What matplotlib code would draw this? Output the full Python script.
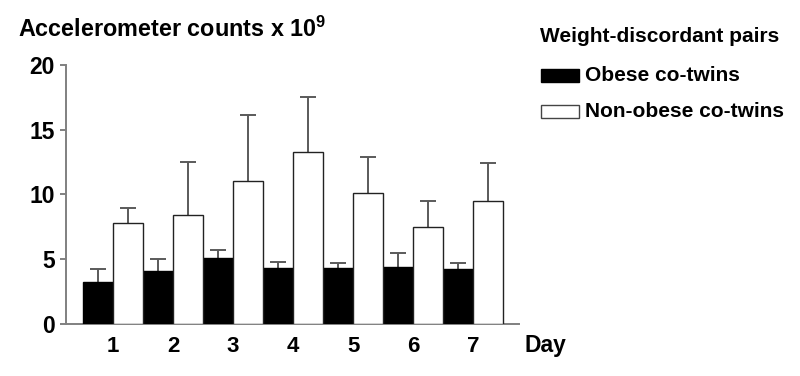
import numpy as np
import matplotlib
matplotlib.use("Agg")
import matplotlib.pyplot as plt
from matplotlib.patches import Rectangle

plt.rcParams["font.family"] = ["Liberation Sans", "DejaVu Sans"]
plt.rcParams["font.weight"] = "bold"
plt.rcParams["mathtext.fontset"] = "custom"
plt.rcParams["mathtext.rm"] = "Liberation Sans:bold"
plt.rcParams["mathtext.bf"] = "Liberation Sans:bold"

days = [1, 2, 3, 4, 5, 6, 7]
obese_mean = [3.2, 4.1, 5.1, 4.3, 4.3, 4.4, 4.2]
obese_err = [1.0, 0.9, 0.6, 0.45, 0.4, 1.05, 0.5]
nonobese_mean = [7.8, 8.4, 11.0, 13.3, 10.1, 7.5, 9.5]
nonobese_err = [1.15, 4.1, 5.15, 4.25, 2.8, 2.0, 2.9]
series_labels = ["Obese co-twins", "Non-obese co-twins"]

axis_grey = "#808080"
err_grey = "#5a5a5a"

fig = plt.figure(figsize=(8, 3.76), dpi=100)
ax = fig.add_axes([0.0825, 0.139, 0.5665, 0.688])

x = np.array(days, dtype=float)
w = 0.5
ax.bar(x - w / 2, obese_mean, width=w, color="black", edgecolor="black", linewidth=1.0, zorder=3)
ax.bar(x + w / 2, nonobese_mean, width=w, color="white", edgecolor="#222222", linewidth=1.0, zorder=3)

# only the upper half of each error bar is drawn
for xs, m, e in [(x - w / 2, obese_mean, obese_err), (x + w / 2, nonobese_mean, nonobese_err)]:
    eb = ax.errorbar(xs, m, yerr=[np.zeros(len(m)), e], fmt="none", ecolor=err_grey,
                     elinewidth=1.4, capsize=5.8, capthick=1.4, zorder=2)
    eb[1][0].set_visible(False)

ax.set_xlim(0.217, 7.767)
ax.set_ylim(0, 20)
ax.set_yticks([0, 5, 10, 15, 20])
ax.set_xticks(days)
ax.tick_params(axis="x", length=0, pad=9, labelsize=16)
ax.tick_params(axis="y", length=4, width=1.4, color=axis_grey, pad=4, labelsize=16.5)
for s in ["top", "right"]:
    ax.spines[s].set_visible(False)
for s in ["left", "bottom"]:
    ax.spines[s].set_color(axis_grey)
    ax.spines[s].set_linewidth(1.4)

fig.text(0.0225, 0.923, "Accelerometer counts x 10$^{9}$", fontsize=16.8, fontweight="bold",
         va="center", ha="left")
fig.text(0.656, 0.082, "Day", fontsize=16.5, fontweight="bold", va="center", ha="left")

# legend drawn by hand
fig.text(0.675, 0.902, "Weight-discordant pairs", fontsize=15, fontweight="bold",
         va="center", ha="left")
for i, (fc, ec) in enumerate([("black", "black"), ("white", "#444444")]):
    yb = [0.782, 0.686][i]
    fig.patches.append(Rectangle((0.676, yb), 0.0475, 0.0346, transform=fig.transFigure,
                                 facecolor=fc, edgecolor=ec, linewidth=1.0))
    fig.text(0.731, yb + 0.0173, series_labels[i], fontsize=15, fontweight="bold",
             va="center", ha="left")

fig.savefig("out.png", dpi=100)
